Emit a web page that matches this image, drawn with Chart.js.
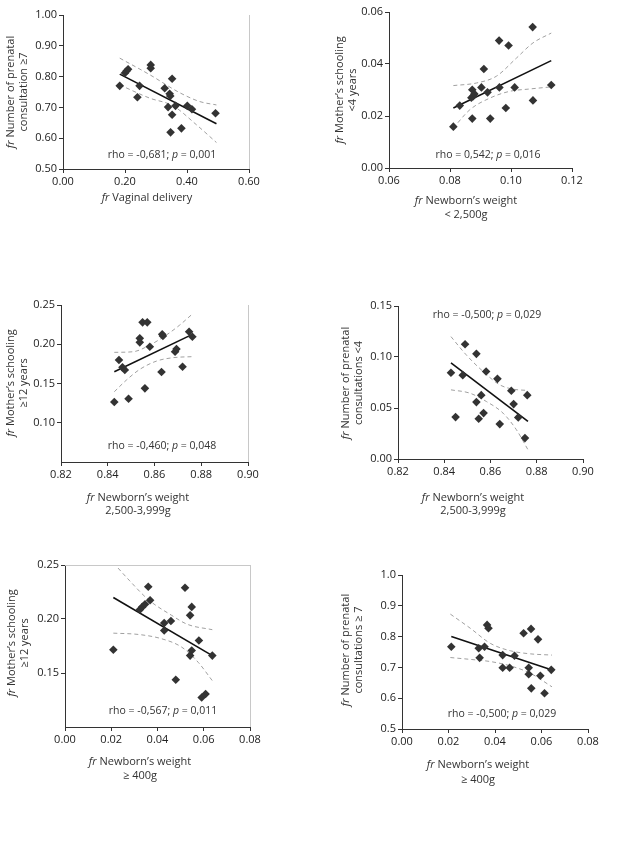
<!DOCTYPE html>
<html>
<head>
<meta charset="utf-8">
<script src="https://cdn.jsdelivr.net/npm/chart.js@4.4.1/dist/chart.umd.min.js"></script>
<style>
  body { margin: 0; background: #fff; }
  #page { position: relative; width: 622px; height: 842px; overflow: hidden; }
  #page canvas { position: absolute; }
</style>
</head>
<body>
<div id="page"></div>
<script>
// panel 1: vaginal delivery vs prenatal consultation >=7
var p1X = [0.183, 0.200, 0.205, 0.210, 0.240, 0.247, 0.283, 0.283, 0.328, 0.344, 0.346, 0.339, 0.352, 0.352, 0.363, 0.347, 0.382, 0.401, 0.416, 0.492];
var p1Y = [0.770, 0.812, 0.818, 0.824, 0.733, 0.770, 0.838, 0.827, 0.762, 0.744, 0.737, 0.701, 0.793, 0.676, 0.705, 0.619, 0.632, 0.705, 0.694, 0.681];
var p1Fit = [[0.183, 0.808], [0.495, 0.647]];
var p1Upper = [[0.183, 0.860], [0.280, 0.806], [0.376, 0.748], [0.441, 0.719], [0.495, 0.708]];
var p1Lower = [[0.183, 0.773], [0.280, 0.730], [0.355, 0.705], [0.430, 0.644], [0.495, 0.586]];
var p1XTicks = [0, 0.2, 0.4, 0.6];
var p1YTicks = [0.5, 0.6, 0.7, 0.8, 0.9, 1.0];

// panel 2: newborn weight < 2,500g vs mother's schooling <4 years
var p2X = [0.0811, 0.0832, 0.0873, 0.0873, 0.0870, 0.0876, 0.0880, 0.0903, 0.0911, 0.0923, 0.0932, 0.0961, 0.0962, 0.0983, 0.0992, 0.1012, 0.1071, 0.1072, 0.1132];
var p2Y = [0.0159, 0.0240, 0.0190, 0.0301, 0.0270, 0.0276, 0.0285, 0.0310, 0.0381, 0.0291, 0.0190, 0.0490, 0.0310, 0.0231, 0.0471, 0.0310, 0.0542, 0.0260, 0.0319];
var p2Fit = [[0.0811, 0.0231], [0.1132, 0.0413]];
var p2Upper = [[0.0811, 0.0317], [0.0887, 0.0327], [0.0952, 0.0353], [0.1018, 0.0423], [0.1072, 0.0481], [0.1132, 0.0519]];
var p2Lower = [[0.0811, 0.0154], [0.0865, 0.0224], [0.0931, 0.0269], [0.0996, 0.0295], [0.1062, 0.0304], [0.1132, 0.0312]];
var p2XTicks = [0.06, 0.08, 0.10, 0.12];
var p2YTicks = [0, 0.02, 0.04, 0.06];

// panel 3: newborn weight 2,500-3,999g vs mother's schooling >=12 years
var p3X = [0.8428, 0.8448, 0.8463, 0.8473, 0.8489, 0.8537, 0.8537, 0.8549, 0.8569, 0.8559, 0.8580, 0.8633, 0.8636, 0.8630, 0.8688, 0.8694, 0.8720, 0.8748, 0.8762];
var p3Y = [0.1264, 0.1799, 0.1706, 0.1672, 0.1306, 0.2075, 0.2024, 0.2279, 0.2279, 0.1438, 0.1969, 0.2126, 0.2105, 0.1646, 0.1905, 0.1939, 0.1714, 0.2160, 0.2096];
var p3Fit = [[0.8428, 0.165], [0.8762, 0.2126]];
var p3Upper = [[0.8428, 0.1897], [0.8509, 0.1905], [0.8580, 0.1990], [0.8651, 0.2118], [0.8708, 0.2245], [0.8762, 0.2385]];
var p3Lower = [[0.8428, 0.1395], [0.8480, 0.1544], [0.8537, 0.1680], [0.8609, 0.1786], [0.8680, 0.1829], [0.8762, 0.1842]];
var p3XTicks = [0.82, 0.84, 0.86, 0.88, 0.90];
var p3YTicks = [0.10, 0.15, 0.20, 0.25];

// panel 4: newborn weight 2,500-3,999g vs prenatal consultations <4
var p4X = [0.8429, 0.8449, 0.8480, 0.8490, 0.8539, 0.8539, 0.8549, 0.8560, 0.8570, 0.8581, 0.8630, 0.8640, 0.8690, 0.8700, 0.8720, 0.8759, 0.8749];
var p4Y = [0.0845, 0.0411, 0.0822, 0.1125, 0.1031, 0.0558, 0.0395, 0.0626, 0.0450, 0.0858, 0.0786, 0.0342, 0.0669, 0.0538, 0.0408, 0.0626, 0.0205];
var p4Fit = [[0.8429, 0.0943], [0.8762, 0.0369]];
var p4Upper = [[0.8429, 0.1200], [0.8495, 0.1021], [0.8568, 0.0858], [0.8640, 0.0727], [0.8697, 0.0685], [0.8762, 0.0672]];
var p4Lower = [[0.8429, 0.0678], [0.8510, 0.0646], [0.8582, 0.0564], [0.8654, 0.0450], [0.8712, 0.0287], [0.8762, 0.0091]];
var p4XTicks = [0.82, 0.84, 0.86, 0.88, 0.90];
var p4YTicks = [0, 0.05, 0.10, 0.15];

// panel 5: newborn weight >=400g vs mother's schooling >=12 years
var p5X = [0.0209, 0.0360, 0.0324, 0.0334, 0.0346, 0.0368, 0.0429, 0.0429, 0.0458, 0.0519, 0.0548, 0.0541, 0.0579, 0.0548, 0.0541, 0.0479, 0.0637, 0.0591, 0.0608];
var p5Y = [0.1715, 0.2298, 0.2087, 0.2112, 0.2137, 0.2174, 0.1962, 0.1894, 0.1981, 0.2289, 0.2112, 0.2034, 0.1801, 0.1708, 0.1661, 0.1438, 0.1661, 0.1273, 0.1305];
var p5Fit = [[0.0209, 0.2199], [0.0637, 0.1661]];
var p5Upper = [[0.0209, 0.2520], [0.0277, 0.2360], [0.0360, 0.2180], [0.0461, 0.2034], [0.0530, 0.1950], [0.0637, 0.1901]];
var p5Lower = [[0.0209, 0.1869], [0.0317, 0.1857], [0.0418, 0.1817], [0.0505, 0.1739], [0.0576, 0.1599], [0.0637, 0.1429]];
var p5XTicks = [0, 0.02, 0.04, 0.06, 0.08];
var p5YTicks = [0.15, 0.20, 0.25];

// panel 6: newborn weight >=400g vs prenatal consultations >=7
var p6X = [0.0212, 0.0366, 0.0372, 0.0330, 0.0355, 0.0334, 0.0433, 0.0484, 0.0433, 0.0463, 0.0523, 0.0555, 0.0585, 0.0545, 0.0545, 0.0595, 0.0642, 0.0556, 0.0613];
var p6Y = [0.767, 0.838, 0.827, 0.762, 0.767, 0.731, 0.740, 0.738, 0.699, 0.699, 0.811, 0.825, 0.791, 0.699, 0.678, 0.673, 0.692, 0.632, 0.616];
var p6Fit = [[0.0212, 0.800], [0.0642, 0.692]];
var p6Upper = [[0.0208, 0.873], [0.0294, 0.827], [0.0380, 0.778], [0.0466, 0.754], [0.0552, 0.744], [0.0645, 0.740]];
var p6Lower = [[0.0208, 0.732], [0.0294, 0.726], [0.0380, 0.719], [0.0466, 0.705], [0.0552, 0.681], [0.0645, 0.637]];
var p6XTicks = [0, 0.02, 0.04, 0.06, 0.08];
var p6YTicks = [0.5, 0.6, 0.7, 0.8, 0.9, 1.0];

var FONT = '"Open Sans", sans-serif';

var panels = [
  { px: p1X, py: p1Y, fit: p1Fit, upper: p1Upper, lower: p1Lower, xTicks: p1XTicks, yTicks: p1YTicks,
    xMin: 0, xMax: 0.6, yMin: 0.5, yMax: 1.0, xDec: 2, yDec: 2,
    area: {l: 63, r: 249, t: 15, b: 169}, left: 0,
    yTitle: ['Number of prenatal', 'consultation \u22657'], yTitleX: [11, 24], yTitleY: 92,
    xTitle: ['Vaginal delivery'], xTitleX: 147, xTitleY: [198],
    rho: ['rho = -0,681; ', '= 0,001'], rhoX: 162, rhoY: 155, frame: ['right'] },
  { px: p2X, py: p2Y, fit: p2Fit, upper: p2Upper, lower: p2Lower, xTicks: p2XTicks, yTicks: p2YTicks,
    xMin: 0.06, xMax: 0.12, yMin: 0, yMax: 0.06, xDec: 2, yDec: 2,
    area: {l: 389, r: 572, t: 12, b: 168}, left: 320,
    yTitle: ["Mother\u2019s schooling", '<4 years'], yTitleX: [340, 353], yTitleY: 90,
    xTitle: ["Newborn\u2019s weight", '< 2,500g'], xTitleX: 466, xTitleY: [201, 215],
    rho: ['rho = 0,542; ', '= 0,016'], rhoX: 488, rhoY: 155, frame: [] },
  { px: p3X, py: p3Y, fit: p3Fit, upper: p3Upper, lower: p3Lower, xTicks: p3XTicks, yTicks: p3YTicks,
    xMin: 0.82, xMax: 0.90, yMin: 0.05, yMax: 0.25, xDec: 2, yDec: 2,
    area: {l: 61, r: 248, t: 305, b: 462}, left: 0,
    yTitle: ["Mother\u2019s schooling", '\u226512 years'], yTitleX: [11, 24], yTitleY: 383,
    xTitle: ["Newborn\u2019s weight", '2,500-3,999g'], xTitleX: 138, xTitleY: [498, 511],
    rho: ['rho = -0,460; ', '= 0,048'], rhoX: 162, rhoY: 446, frame: ['right'] },
  { px: p4X, py: p4Y, fit: p4Fit, upper: p4Upper, lower: p4Lower, xTicks: p4XTicks, yTicks: p4YTicks,
    xMin: 0.82, xMax: 0.90, yMin: 0, yMax: 0.15, xDec: 2, yDec: 2,
    area: {l: 398, r: 583, t: 306, b: 459}, left: 320,
    yTitle: ['Number of prenatal', 'consultations <4'], yTitleX: [346, 359], yTitleY: 383,
    xTitle: ["Newborn\u2019s weight", '2,500-3,999g'], xTitleX: 473, xTitleY: [498, 511],
    rho: ['rho = -0,500; ', '= 0,029'], rhoX: 487, rhoY: 315, frame: [] },
  { px: p5X, py: p5Y, fit: p5Fit, upper: p5Upper, lower: p5Lower, xTicks: p5XTicks, yTicks: p5YTicks,
    xMin: 0, xMax: 0.08, yMin: 0.10, yMax: 0.25, xDec: 2, yDec: 2,
    area: {l: 65, r: 250, t: 565, b: 727}, left: 0,
    yTitle: ["Mother\u2019s schooling", '\u226512 years'], yTitleX: [12, 25], yTitleY: 643,
    xTitle: ["Newborn\u2019s weight", '\u2265 400g'], xTitleX: 140, xTitleY: [762, 776],
    rho: ['rho = -0,567; ', '= 0,011'], rhoX: 163, rhoY: 711, frame: ['right', 'top'] },
  { px: p6X, py: p6Y, fit: p6Fit, upper: p6Upper, lower: p6Lower, xTicks: p6XTicks, yTicks: p6YTicks,
    xMin: 0, xMax: 0.08, yMin: 0.5, yMax: 1.0, xDec: 2, yDec: 1,
    area: {l: 402, r: 588, t: 575, b: 729}, left: 320,
    yTitle: ['Number of prenatal', 'consultations \u2265 7'], yTitleX: [346, 359], yTitleY: 650,
    xTitle: ["Newborn\u2019s weight", '\u2265 400g'], xTitleX: 478, xTitleY: [765, 780],
    rho: ['rho = -0,500; ', '= 0,029'], rhoX: 502, rhoY: 714, frame: [] }
];

function setFont(ctx, size, italic) {
  ctx.font = (italic ? 'italic ' : '') + size + 'px ' + FONT;
}

// draws text pieces [text, italic] centred on x
function drawRich(ctx, parts, x, y, size) {
  var total = 0;
  parts.forEach(function(p){ setFont(ctx, size, p[1]); total += ctx.measureText(p[0]).width; });
  var cx = x - total / 2;
  parts.forEach(function(p){
    setFont(ctx, size, p[1]);
    ctx.fillText(p[0], cx, y);
    cx += ctx.measureText(p[0]).width;
  });
}

function titleLine(lines, i) {
  return i === 0 ? [['fr ', true], [lines[0], false]] : [[lines[i], false]];
}

function textPlugin(p, ox, oy) {
  return {
    id: 'panelText',
    afterDraw: function(chart){
      var ctx = chart.ctx, a = chart.chartArea;
      ctx.save();
      ctx.strokeStyle = '#c8c8c8';
      ctx.lineWidth = 1;
      if (p.frame.indexOf('right') >= 0) {
        ctx.beginPath(); ctx.moveTo(a.right + 0.5, a.top); ctx.lineTo(a.right + 0.5, a.bottom); ctx.stroke();
      }
      if (p.frame.indexOf('top') >= 0) {
        ctx.beginPath(); ctx.moveTo(a.left, a.top + 0.5); ctx.lineTo(a.right, a.top + 0.5); ctx.stroke();
      }
      ctx.fillStyle = '#333';
      ctx.textBaseline = 'middle';
      ctx.textAlign = 'left';
      // y title, rotated
      p.yTitle.forEach(function(t, i){
        ctx.save();
        ctx.translate(p.yTitleX[i] - ox, p.yTitleY - oy);
        ctx.rotate(-Math.PI / 2);
        drawRich(ctx, titleLine(p.yTitle, i), 0, 0, 11);
        ctx.restore();
      });
      p.xTitle.forEach(function(t, i){
        drawRich(ctx, titleLine(p.xTitle, i), p.xTitleX - ox, p.xTitleY[i] - oy, 11);
      });
      drawRich(ctx, [[p.rho[0], false], ['p', true], [' ' + p.rho[1], false]], p.rhoX - ox, p.rhoY - oy, 10.5);
      ctx.restore();
    }
  };
}

function toPoints(pairs) {
  return pairs.map(function(d){ return {x: d[0], y: d[1]}; });
}

function makeScale(min, max, ticks, dec, fitFn) {
  return {
    type: 'linear',
    min: min,
    max: max,
    afterBuildTicks: function(s){ s.ticks = ticks.map(function(v){ return {value: v}; }); },
    afterFit: fitFn,
    grid: { display: true, drawOnChartArea: false, drawTicks: true, tickLength: 4, color: '#333' },
    border: { display: true, color: '#333', width: 1 },
    ticks: {
      padding: 2,
      color: '#222',
      maxRotation: 0,
      autoSkip: false,
      font: { family: FONT, size: 11 },
      callback: function(v){ return Number(v).toFixed(dec); }
    }
  };
}

function drawPanel(p) {
  var padTop = 10, padRight = 20, xH = 62;
  var yW = p.area.l - p.left;
  var top = p.area.t - padTop;
  var w = yW + (p.area.r - p.area.l) + padRight;
  var h = padTop + (p.area.b - p.area.t) + xH;

  var canvas = document.createElement('canvas');
  canvas.width = w;
  canvas.height = h;
  canvas.style.left = p.left + 'px';
  canvas.style.top = top + 'px';
  canvas.style.width = w + 'px';
  canvas.style.height = h + 'px';
  document.getElementById('page').appendChild(canvas);

  var pts = p.px.map(function(x, i){ return {x: x, y: p.py[i]}; });

  new Chart(canvas.getContext('2d'), {
    type: 'scatter',
    data: {
      datasets: [{
        data: pts,
        pointStyle: 'rectRot',
        pointRadius: 4.3,
        backgroundColor: '#333',
        borderColor: '#333',
        borderWidth: 0
      }, {
        type: 'line',
        data: toPoints(p.fit),
        borderColor: '#111',
        borderWidth: 1.6,
        pointRadius: 0,
        fill: false
      }, {
        type: 'line',
        data: toPoints(p.upper),
        borderColor: '#a0a0a0',
        borderWidth: 1,
        borderDash: [4, 3],
        cubicInterpolationMode: 'monotone',
        pointRadius: 0,
        fill: false
      }, {
        type: 'line',
        data: toPoints(p.lower),
        borderColor: '#a0a0a0',
        borderWidth: 1,
        borderDash: [4, 3],
        cubicInterpolationMode: 'monotone',
        pointRadius: 0,
        fill: false
      }]
    },
    options: {
      responsive: false,
      animation: false,
      devicePixelRatio: 1,
      layout: { padding: { top: padTop, right: padRight, left: 0, bottom: 0 } },
      plugins: { legend: { display: false }, tooltip: { enabled: false } },
      scales: {
        x: makeScale(p.xMin, p.xMax, p.xTicks, p.xDec, function(s){ s.height = xH; }),
        y: makeScale(p.yMin, p.yMax, p.yTicks, p.yDec, function(s){ s.width = yW; })
      }
    },
    plugins: [textPlugin(p, p.left, top)]
  });
}

panels.forEach(drawPanel);
</script>
</body>
</html>
